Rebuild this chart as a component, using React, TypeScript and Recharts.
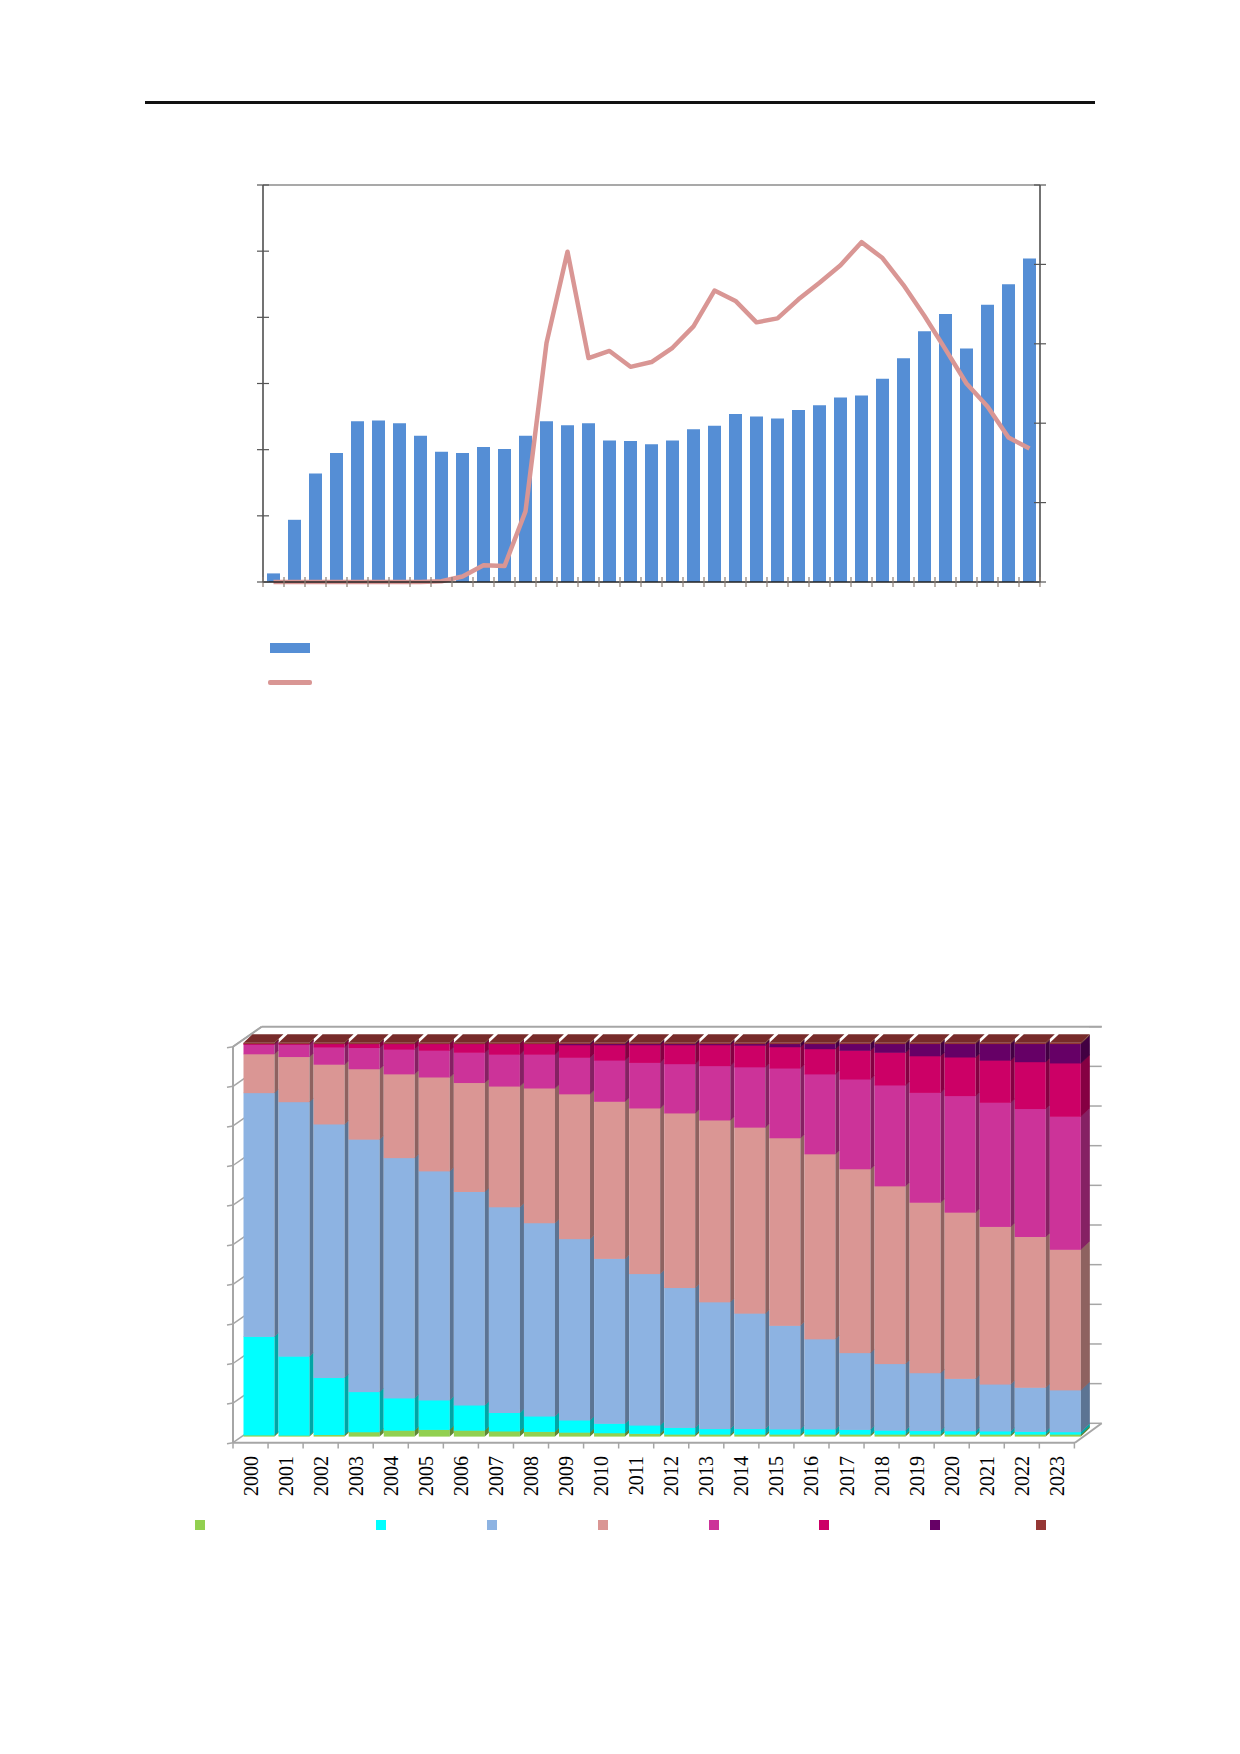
import {
  Bar,
  BarChart,
  ComposedChart,
  Legend,
  Line,
  ReferenceLine,
  XAxis,
  YAxis,
} from "recharts";

// ---- top chart: yearly volume (bars, left axis) and share (line, right axis)
const years = [
  1987, 1988, 1989, 1990, 1991, 1992, 1993, 1994, 1995, 1996, 1997, 1998, 1999,
  2000, 2001, 2002, 2003, 2004, 2005, 2006, 2007, 2008, 2009, 2010, 2011, 2012,
  2013, 2014, 2015, 2016, 2017, 2018, 2019, 2020, 2021, 2022, 2023,
];
const volume = [
  0.13, 0.94, 1.64, 1.95, 2.43, 2.44, 2.4, 2.21, 1.97, 1.95, 2.04, 2.01, 2.21,
  2.43, 2.37, 2.4, 2.14, 2.13, 2.08, 2.14, 2.31, 2.36, 2.54, 2.5, 2.47, 2.6,
  2.67, 2.79, 2.82, 3.07, 3.38, 3.79, 4.05, 3.53, 4.19, 4.5, 4.89,
];
const share = [
  0, 0, 0, 0, 0, 0, 0, 0, 0.01, 0.07, 0.21, 0.2, 0.89, 3.01, 4.16, 2.82, 2.91,
  2.71, 2.77, 2.95, 3.22, 3.67, 3.54, 3.27, 3.32, 3.56, 3.77, 3.99, 4.28, 4.08,
  3.74, 3.35, 2.93, 2.5, 2.21, 1.82, 1.68,
];
const volumeTicks = [0, 1, 2, 3, 4, 5, 6];
const shareTicks = [0, 1, 2, 3, 4, 5];

// ---- bottom chart: structure by group, 100% stacked
const years2 = [
  "2000", "2001", "2002", "2003", "2004", "2005", "2006", "2007", "2008",
  "2009", "2010", "2011", "2012", "2013", "2014", "2015", "2016", "2017",
  "2018", "2019", "2020", "2021", "2022", "2023",
];
const groupA = [0.3, 0.25, 0.4, 1.1, 1.5, 1.7, 1.5, 1.3, 1.2, 1.0, 0.85, 0.7, 0.5, 0.5, 0.5, 0.5, 0.5, 0.5, 0.5, 0.5, 0.5, 0.5, 0.5, 0.5];
const groupB = [25.1, 20.1, 14.5, 10.2, 8.2, 7.5, 6.4, 4.7, 3.9, 3.1, 2.4, 2.1, 1.7, 1.4, 1.4, 1.3, 1.3, 1.2, 1.0, 0.9, 0.85, 0.8, 0.7, 0.6];
const groupC = [62.1, 64.8, 64.5, 64.2, 61.1, 58.3, 54.3, 52.3, 49.2, 46.2, 42.0, 38.6, 35.5, 32.2, 29.3, 26.3, 22.9, 19.5, 16.9, 14.7, 13.3, 11.9, 11.2, 10.6];
const groupD = [9.9, 11.5, 15.2, 17.9, 21.3, 23.9, 27.7, 30.7, 34.3, 36.9, 40.0, 42.2, 44.3, 46.2, 47.2, 47.6, 47.0, 46.7, 45.1, 43.3, 42.2, 40.0, 38.3, 35.6];
const groupE = [2.4, 3.1, 4.4, 5.4, 6.3, 6.8, 7.7, 8.1, 8.6, 9.3, 10.5, 11.6, 12.5, 13.8, 15.3, 17.7, 20.3, 22.8, 25.6, 27.9, 29.6, 31.5, 32.5, 33.7];
const groupF = [0.2, 0.2, 0.85, 1.0, 1.4, 1.7, 2.2, 2.7, 2.7, 3.2, 3.9, 4.5, 4.8, 5.3, 5.5, 5.4, 6.4, 7.3, 8.3, 9.3, 9.8, 10.7, 11.9, 13.5];
const groupG = [0, 0, 0, 0, 0, 0, 0, 0, 0, 0.3, 0.3, 0.3, 0.3, 0.3, 0.4, 0.8, 1.3, 1.7, 2.2, 3.1, 3.4, 4.2, 4.6, 4.9];
const groupH = [0.2, 0.2, 0.2, 0.2, 0.2, 0.2, 0.2, 0.2, 0.2, 0.2, 0.2, 0.2, 0.2, 0.2, 0.2, 0.2, 0.2, 0.2, 0.2, 0.2, 0.2, 0.2, 0.2, 0.2];

const groups = [
  { key: "a", color: "#92d050", values: groupA },
  { key: "b", color: "#00ffff", values: groupB },
  { key: "c", color: "#8db3e2", values: groupC },
  { key: "d", color: "#da9694", values: groupD },
  { key: "e", color: "#cc3399", values: groupE },
  { key: "f", color: "#cc0066", values: groupF },
  { key: "g", color: "#660066", values: groupG },
  { key: "h", color: "#953735", values: groupH },
];

const topData = years.map((year, i) => ({
  year,
  volume: volume[i],
  share: share[i],
}));

const structureData = years2.map((year, i) => {
  const row: Record<string, number | string> = { year };
  groups.forEach((g) => (row[g.key] = g.values[i]));
  return row;
});

// layout of the second chart (page px)
const P2 = { left: 241.5, right: 1082.9, top: 42.7, bottom: 436 };
const BAND2 = (P2.right - P2.left) / years2.length;
const BAR2 = 31;
const DX = 9;
const DY = 8.5;
const legend2X = [195, 376, 487, 598, 709, 819, 930, 1036];

const shade = (hex: string, f: number) => {
  const n = parseInt(hex.slice(1), 16);
  const r = Math.round(((n >> 16) & 255) * f);
  const g = Math.round(((n >> 8) & 255) * f);
  const b = Math.round((n & 255) * f);
  return `rgb(${r},${g},${b})`;
};

function Block3D(props: any) {
  const { x, y, width, height, fill, index, top } = props;
  if (x == null || width == null || height == null) return null;
  const last = index === years2.length - 1;
  const g = last ? DX : BAND2 - width;
  const lift = (g * DY) / DX;
  const r = x + width;
  return (
    <g>
      <rect x={x} y={y} width={width} height={height + 0.6} fill={fill} />
      <polygon
        points={`${r},${y} ${r + g},${y - lift} ${r + g},${y + height - lift + 0.6} ${r},${y + height + 0.6}`}
        fill={shade(fill, 0.65)}
      />
      {top && (
        <polygon
          points={`${x},${y} ${x + DX},${y - DY} ${r + DX},${y - DY} ${r},${y}`}
          fill="#772b2a"
        />
      )}
    </g>
  );
}

function CrossTickY(props: any) {
  const { x, y } = props;
  return <line x1={x - 6} x2={x + 6} y1={y} y2={y} stroke="#555" strokeWidth={1.2} />;
}

function BoundaryTickX(props: any) {
  const { x, y, index } = props;
  const half = 777 / years.length / 2;
  return (
    <g>
      <line x1={x - half} x2={x - half} y1={y - 5} y2={y + 5} stroke="#8c7f76" strokeWidth={1.2} />
      {index === years.length - 1 && (
        <line x1={x + half} x2={x + half} y1={y - 5} y2={y + 5} stroke="#8c7f76" strokeWidth={1.2} />
      )}
    </g>
  );
}

function YearTick(props: any) {
  const { x, y, payload, index } = props;
  const lx = x - 8.5;
  const left = lx - BAND2 / 2;
  const ax = lx + 7;
  const ay = y + 20;
  return (
    <g>
      <line x1={left} x2={left} y1={y + 6.7} y2={y + 12.5} stroke="#a6a6a6" strokeWidth={1.5} />
      {index === years2.length - 1 && (
        <line x1={left + BAND2} x2={left + BAND2} y1={y + 6.7} y2={y + 12.5} stroke="#a6a6a6" strokeWidth={1.5} />
      )}
      <text
        x={ax}
        y={ay}
        transform={`rotate(-90 ${ax} ${ay})`}
        textAnchor="end"
        fontFamily="'Liberation Serif', serif"
        fontSize={20}
        fill="#000"
      >
        {payload.value}
      </text>
    </g>
  );
}

function TopLegend() {
  return (
    <div style={{ position: "relative", width: 1240, height: 60 }}>
      <div style={{ position: "absolute", left: 270, top: 3, width: 40, height: 10, background: "#558ed5" }} />
      <div style={{ position: "absolute", left: 268, top: 40, width: 44, height: 4.5, borderRadius: 2, background: "#d99694" }} />
    </div>
  );
}

function StructureLegend() {
  return (
    <div style={{ position: "relative", width: 1240, height: 12 }}>
      {groups.map((g, i) => (
        <div
          key={g.key}
          style={{ position: "absolute", left: legend2X[i], top: 0, width: 10, height: 10, background: g.color }}
        />
      ))}
    </div>
  );
}

function Walls() {
  const grey = "#a6a6a6";
  const leftTicks = Array.from({ length: 11 }, (_, k) => 46.7 + k * 39.6);
  const rightTicks = Array.from({ length: 11 }, (_, k) => 26.7 + k * 39.66);
  return (
    <svg width={1240} height={560} style={{ position: "absolute", left: 0, top: 0 }}>
      <polygon points="233,442.7 1075,442.7 1101.7,423.3 261.7,423.3" fill="#fff" />
      <line x1={261.7} y1={26.7} x2={1101.7} y2={26.7} stroke={grey} strokeWidth={2} />
      <line x1={233} y1={46.7} x2={261.7} y2={26.7} stroke={grey} strokeWidth={2} />
      <line x1={233} y1={46.7} x2={233} y2={442.7} stroke={grey} strokeWidth={2} />
      <line x1={233} y1={442.7} x2={1075} y2={442.7} stroke={grey} strokeWidth={2} />
      <line x1={1075} y1={442.7} x2={1101.7} y2={423.3} stroke={grey} strokeWidth={2} />
      {leftTicks.map((ty) => (
        <g key={ty}>
          <line x1={227} y1={ty + 1} x2={233} y2={ty} stroke={grey} strokeWidth={1.5} />
          <line x1={233} y1={ty} x2={261.7} y2={ty - 20} stroke={grey} strokeWidth={1.5} />
        </g>
      ))}
      {rightTicks.map((ty) => (
        <line key={ty} x1={1089} y1={ty} x2={1101.7} y2={ty} stroke={grey} strokeWidth={1.5} />
      ))}
    </svg>
  );
}

export default function App() {
  return (
    <div style={{ position: "absolute", left: 0, top: 0, width: 1240, height: 1754, background: "#fff" }}>
      <div style={{ position: "absolute", left: 145, top: 101, width: 950, height: 2.5, background: "#111" }} />

      <div style={{ position: "absolute", left: 0, top: 0 }}>
        <ComposedChart
          width={1240}
          height={720}
          data={topData}
          margin={{ top: 185, left: 243, right: 180, bottom: 118 }}
        >
          <XAxis
            dataKey="year"
            interval={0}
            height={20}
            tickSize={0}
            tickMargin={0}
            tickLine={false}
            axisLine={{ stroke: "#222", strokeWidth: 1.5 }}
            tick={<BoundaryTickX />}
          />
          <YAxis
            yAxisId="left"
            domain={[0, 6]}
            ticks={volumeTicks}
            width={20}
            tickSize={0}
            tickMargin={0}
            tickLine={false}
            axisLine={{ stroke: "#444", strokeWidth: 1.5 }}
            tick={<CrossTickY />}
          />
          <YAxis
            yAxisId="right"
            orientation="right"
            domain={[0, 5]}
            ticks={shareTicks}
            width={20}
            tickSize={0}
            tickMargin={0}
            tickLine={false}
            axisLine={{ stroke: "#444", strokeWidth: 1.5 }}
            tick={<CrossTickY />}
          />
          <ReferenceLine yAxisId="left" y={6} stroke="#8c8c8c" strokeWidth={1.5} />
          <Bar yAxisId="left" dataKey="volume" fill="#558ed5" barSize={13} isAnimationActive={false} />
          <Line
            yAxisId="right"
            type="linear"
            dataKey="share"
            stroke="#d99694"
            strokeWidth={4.5}
            strokeLinejoin="round"
            dot={false}
            activeDot={false}
            isAnimationActive={false}
          />
          <Legend
            layout="horizontal"
            verticalAlign="middle"
            content={<TopLegend />}
            wrapperStyle={{ left: 0, top: 640, width: 1240 }}
          />
        </ComposedChart>
      </div>

      <div style={{ position: "absolute", left: 0, top: 1000, width: 1240, height: 560 }}>
        <Walls />
        <div style={{ position: "absolute", left: 0, top: 0 }}>
          <BarChart
            width={1240}
            height={560}
            data={structureData}
            stackOffset="expand"
            margin={{ top: P2.top, left: P2.left, right: 1240 - P2.right, bottom: 560 - P2.bottom - 60 }}
          >
            <XAxis
              dataKey="year"
              interval={0}
              height={60}
              tickSize={0}
              tickMargin={0}
              tickLine={false}
              axisLine={false}
              tick={<YearTick />}
            />
            <YAxis hide domain={[0, 1]} />
            {groups.map((g, gi) => (
              <Bar
                key={g.key}
                dataKey={g.key}
                stackId="s"
                fill={g.color}
                barSize={BAR2}
                isAnimationActive={false}
                shape={(p: any) => <Block3D {...p} top={gi === groups.length - 1} />}
              />
            ))}
            <Legend
              layout="horizontal"
              verticalAlign="middle"
              content={<StructureLegend />}
              wrapperStyle={{ left: 0, top: 520, width: 1240 }}
            />
          </BarChart>
        </div>
      </div>
    </div>
  );
}
